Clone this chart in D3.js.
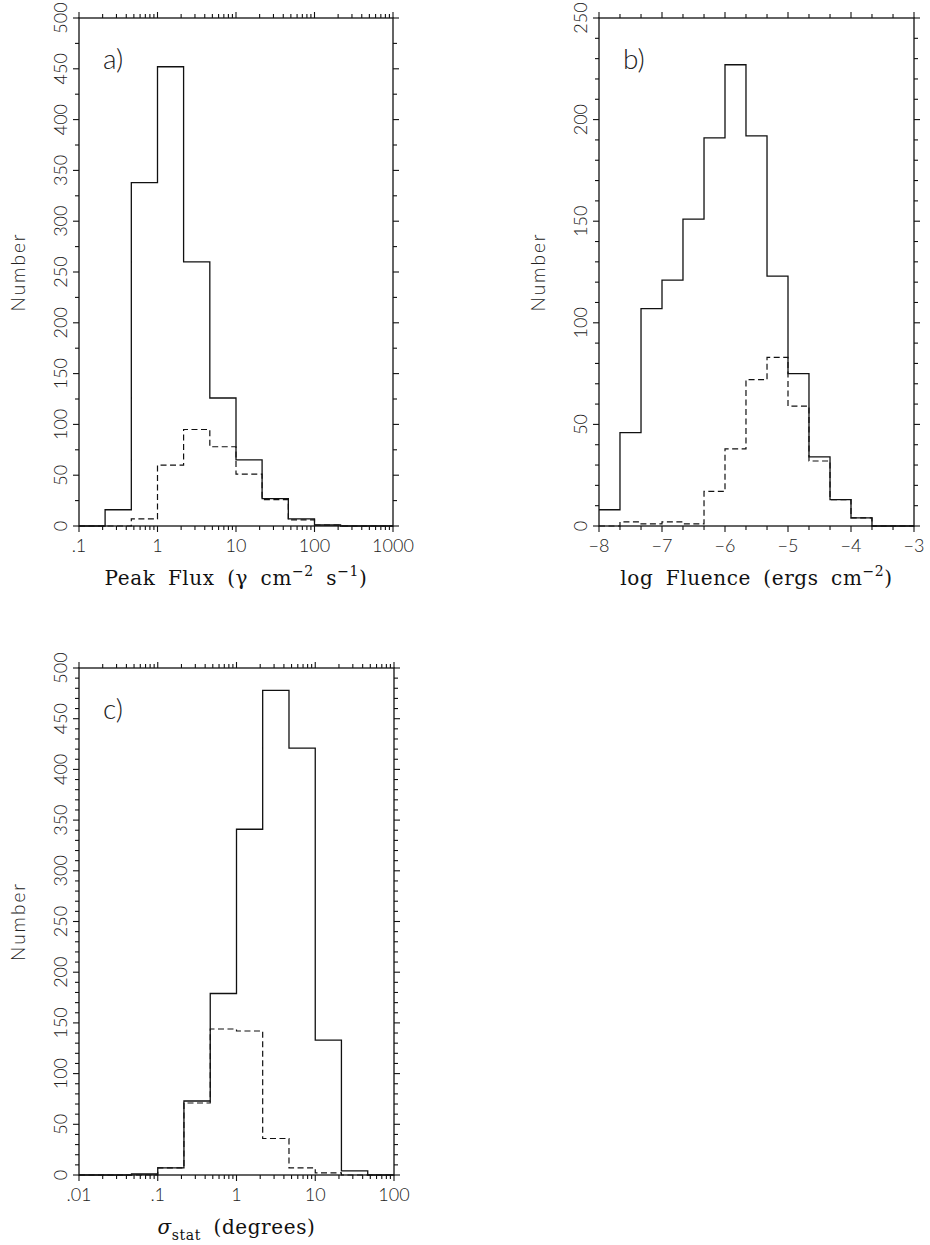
<!DOCTYPE html>
<html><head><meta charset="utf-8">
<script src="https://cdn.jsdelivr.net/npm/d3@7"></script>
<style>
body{margin:0;background:#fff;}
svg{display:block;}
.tl{font-family:Lato,"DejaVu Sans",sans-serif;font-weight:300;font-size:18px;fill:#222;}
.ylab{font-family:Lato,"DejaVu Sans",sans-serif;font-weight:300;font-size:19px;fill:#222;letter-spacing:2px;}
.plab{font-family:Lato,"DejaVu Sans",sans-serif;font-weight:300;font-size:28px;fill:#222;}
.title{font-family:"DejaVu Serif","Liberation Serif",serif;font-size:20px;fill:#111;letter-spacing:0.6px;word-spacing:5.5px;}
</style></head><body>
<svg id="chart" width="930" height="1245"></svg>
<script>
// ---------- Panel a: Peak Flux ----------
const fluxEdges = [0.1, 0.215, 0.464, 1, 2.15, 4.64, 10, 21.5, 46.4, 100, 215, 464, 1000];
const fluxAll   = [0, 16, 338, 452, 260, 126, 65, 27, 7, 1, 0, 0];
const fluxSub   = [0, 0, 7, 60, 95, 78, 51, 26, 6, 1, 0, 0];
const fluxXTicks  = [0.1, 1, 10, 100, 1000];
const fluxXLabels = [".1", "1", "10", "100", "1000"];

// ---------- Panel b: log Fluence ----------
const fluenceEdges = [-8, -7.667, -7.333, -7, -6.667, -6.333, -6, -5.667, -5.333, -5, -4.667, -4.333, -4, -3.667, -3.333, -3];
const fluenceAll   = [8, 46, 107, 121, 151, 191, 227, 192, 123, 75, 34, 13, 4, 0, 0];
const fluenceSub   = [0, 2, 1, 2, 1, 17, 38, 72, 83, 59, 32, 13, 4, 0, 0];
const fluenceXTicks  = [-8, -7, -6, -5, -4, -3];
const fluenceXLabels = ["\u22128", "\u22127", "\u22126", "\u22125", "\u22124", "\u22123"];

// ---------- Panel c: sigma_stat ----------
const sigmaEdges = [0.01, 0.0215, 0.0464, 0.1, 0.215, 0.464, 1, 2.15, 4.64, 10, 21.5, 46.4, 100];
const sigmaAll   = [0, 0, 1, 7, 73, 179, 341, 478, 421, 133, 4, 0];
const sigmaSub   = [0, 0, 0, 7, 71, 144, 142, 36, 7, 2, 0, 0];
const sigmaXTicks  = [0.01, 0.1, 1, 10, 100];
const sigmaXLabels = [".01", ".1", "1", "10", "100"];

// ---------- y ticks ----------
const yTicks500 = [0, 50, 100, 150, 200, 250, 300, 350, 400, 450, 500];
const yLabels500 = ["0", "50", "100", "150", "200", "250", "300", "350", "400", "450", "500"];
const yTicks250 = [0, 50, 100, 150, 200, 250];
const yLabels250 = ["0", "50", "100", "150", "200", "250"];

const svg = d3.select("#chart");
const ink = "#111";

function drawPanel(cfg) {
  const g = svg.append("g");
  const x = (cfg.log ? d3.scaleLog() : d3.scaleLinear()).domain(cfg.xDomain).range([cfg.left, cfg.right]);
  const y = d3.scaleLinear().domain([0, cfg.yMax]).range([cfg.bottom, cfg.top]);

  let xMinor = [];
  if (cfg.log) {
    for (let i = 0; i < cfg.xTicks.length - 1; i++) {
      for (let k = 2; k <= 9; k++) xMinor.push(cfg.xTicks[i] * k);
    }
  } else {
    xMinor = cfg.edges.filter(e => !cfg.xTicks.includes(e));
  }
  const yMinor = d3.range(0, cfg.yMax + 0.001, cfg.yMinorStep).filter(v => !cfg.yTicks.includes(v));

  const tickG = g.append("g").attr("stroke", ink).attr("stroke-width", 1.1);
  const majL = 6, minL = 4;
  cfg.xTicks.forEach(v => {
    tickG.append("line").attr("x1", x(v)).attr("x2", x(v)).attr("y1", cfg.bottom).attr("y2", cfg.bottom + majL);
    tickG.append("line").attr("x1", x(v)).attr("x2", x(v)).attr("y1", cfg.top).attr("y2", cfg.top - majL);
  });
  xMinor.forEach(v => {
    tickG.append("line").attr("x1", x(v)).attr("x2", x(v)).attr("y1", cfg.bottom).attr("y2", cfg.bottom + minL);
    tickG.append("line").attr("x1", x(v)).attr("x2", x(v)).attr("y1", cfg.top).attr("y2", cfg.top - minL);
  });
  cfg.yTicks.forEach(v => {
    tickG.append("line").attr("x1", cfg.left).attr("x2", cfg.left - majL).attr("y1", y(v)).attr("y2", y(v));
    tickG.append("line").attr("x1", cfg.right).attr("x2", cfg.right + majL).attr("y1", y(v)).attr("y2", y(v));
  });
  yMinor.forEach(v => {
    tickG.append("line").attr("x1", cfg.left).attr("x2", cfg.left - minL).attr("y1", y(v)).attr("y2", y(v));
    tickG.append("line").attr("x1", cfg.right).attr("x2", cfg.right + minL).attr("y1", y(v)).attr("y2", y(v));
  });

  g.append("rect").attr("x", cfg.left).attr("y", cfg.top)
    .attr("width", cfg.right - cfg.left).attr("height", cfg.bottom - cfg.top)
    .attr("fill", "none").attr("stroke", ink).attr("stroke-width", 1.3);

  cfg.xTicks.forEach((v, i) => {
    g.append("text").attr("class", "tl").attr("x", x(v)).attr("y", cfg.bottom + 26)
      .attr("text-anchor", "middle").text(cfg.xLabels[i]);
  });
  cfg.yTicks.forEach((v, i) => {
    g.append("text").attr("class", "tl")
      .attr("transform", `translate(${cfg.left - 12},${y(v)}) rotate(-90)`)
      .attr("text-anchor", "middle").text(cfg.yLabels[i]);
  });
  g.append("text").attr("class", "ylab")
    .attr("transform", `translate(${cfg.left - 54},${(cfg.top + cfg.bottom) / 2}) rotate(-90)`)
    .attr("text-anchor", "middle").text("Number");

  g.append("text").attr("class", "plab").attr("x", cfg.left + 24).attr("y", cfg.top + 51).text(cfg.label);

  const line = d3.line().x(d => x(d[0])).y(d => y(d[1])).curve(d3.curveStepAfter);
  const pts = vals => {
    const p = vals.map((v, i) => [cfg.edges[i], v]);
    p.push([cfg.edges[cfg.edges.length - 1], vals[vals.length - 1]]);
    return p;
  };
  g.append("path").attr("d", line(pts(cfg.sub))).attr("fill", "none")
    .attr("stroke", ink).attr("stroke-width", 1.2).attr("stroke-dasharray", "6,3.5");
  g.append("path").attr("d", line(pts(cfg.all))).attr("fill", "none")
    .attr("stroke", ink).attr("stroke-width", 1.3);

  const t = g.append("text").attr("class", "title").attr("x", (cfg.left + cfg.right) / 2)
    .attr("y", cfg.bottom + 59).attr("text-anchor", "middle");
  cfg.title(t);
}

drawPanel({
  left: 79, right: 393, top: 18, bottom: 526, log: true,
  xDomain: [0.1, 1000], yMax: 500, yMinorStep: 25,
  edges: fluxEdges, all: fluxAll, sub: fluxSub,
  xTicks: fluxXTicks, xLabels: fluxXLabels, yTicks: yTicks500, yLabels: yLabels500,
  label: "a)",
  title: t => {
    t.append("tspan").text("Peak Flux (\u03B3 cm");
    t.append("tspan").attr("dy", -9).attr("font-size", 14).text("\u22122");
    t.append("tspan").attr("dy", 9).text(" s");
    t.append("tspan").attr("dy", -9).attr("font-size", 14).text("\u22121");
    t.append("tspan").attr("dy", 9).text(")");
  }
});

drawPanel({
  left: 599, right: 914, top: 18, bottom: 526, log: false,
  xDomain: [-8, -3], yMax: 250, yMinorStep: 10,
  edges: fluenceEdges, all: fluenceAll, sub: fluenceSub,
  xTicks: fluenceXTicks, xLabels: fluenceXLabels, yTicks: yTicks250, yLabels: yLabels250,
  label: "b)",
  title: t => {
    t.append("tspan").text("log Fluence (ergs cm");
    t.append("tspan").attr("dy", -9).attr("font-size", 14).text("\u22122");
    t.append("tspan").attr("dy", 9).text(")");
  }
});

drawPanel({
  left: 79, right: 394, top: 668, bottom: 1175, log: true,
  xDomain: [0.01, 100], yMax: 500, yMinorStep: 10,
  edges: sigmaEdges, all: sigmaAll, sub: sigmaSub,
  xTicks: sigmaXTicks, xLabels: sigmaXLabels, yTicks: yTicks500, yLabels: yLabels500,
  label: "c)",
  title: t => {
    t.append("tspan").attr("font-style", "italic").text("\u03C3");
    t.append("tspan").attr("dy", 6).attr("font-size", 14).text("stat");
    t.append("tspan").attr("dy", -6).text(" (degrees)");
  }
});
</script>
</body></html>
